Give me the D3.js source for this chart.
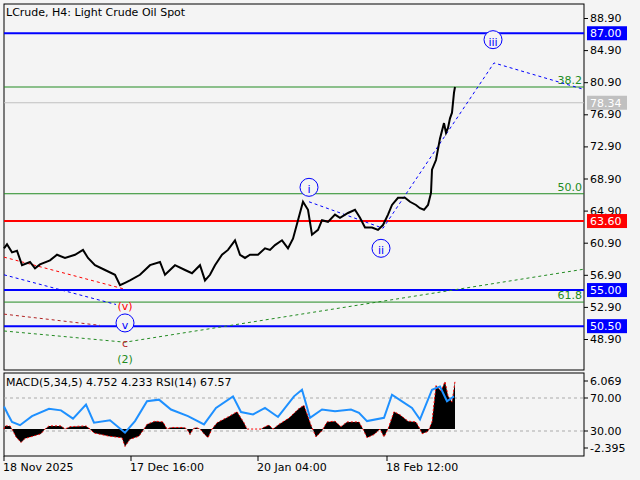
<!DOCTYPE html>
<html><head><meta charset="utf-8">
<script src="https://cdn.jsdelivr.net/npm/d3@7"></script>
<style>body{margin:0;background:#f4f4f4}text{font-family:"DejaVu Sans",sans-serif;font-size:11px}</style>
</head><body><svg id="c" width="640" height="480"></svg>
<script>
// price path: [bar, price]
const priceData = [[0,60.2],[3,60.7],[8,59.7],[13,59.9],[18,58.1],[26,58.5],[31,57.7],[36,58.2],[46,58.7],[53,59.4],[61,59.0],[71,59.4],[79,60.0],[84,59.0],[91,58.1],[101,57.5],[111,56.9],[116,55.6],[121,55.9],[126,56.2],[136,56.9],[146,58.1],[156,58.5],[161,56.9],[171,58.1],[181,57.5],[188,57.1],[196,58.1],[201,56.2],[206,56.9],[211,58.1],[218,59.4],[224,60.0],[231,61.2],[236,59.4],[241,59.0],[246,59.4],[254,59.4],[261,60.2],[266,60.0],[271,60.6],[278,61.2],[284,60.2],[289,61.4],[294,63.7],[299,66.0],[304,65.0],[308,61.9],[314,62.5],[318,63.7],[324,63.5],[331,64.4],[336,64.0],[344,64.6],[351,65.0],[356,64.0],[361,62.8],[368,62.8],[374,62.5],[379,63.1],[384,64.4],[388,65.6],[394,66.5],[401,66.5],[406,66.0],[412,65.6],[416,65.2],[420,65.0],[424,65.6],[427,67.1],[428,70.0],[432,71.2],[436,73.9],[440,75.8],[442,74.6],[444,75.2],[446,76.4],[448,77.1],[450,79.6],[451,80.3]];
const levels = [
  {v:87.00, color:"#0000ff", w:2, tag:"87.00"},
  {v:63.60, color:"#ff0000", w:2, tag:"63.60"},
  {v:55.00, color:"#0000ff", w:2, tag:"55.00"},
  {v:50.50, color:"#0000ff", w:2, tag:"50.50"},
  {v:78.34, color:"#c0c0c0", w:1, tag:"78.34"}
];
const fibLevels = [[80.3,"38.2"],[67.0,"50.0"],[53.5,"61.8"]];
const priceTicks = [88.9,84.9,80.9,76.9,72.9,68.9,64.9,60.9,56.9,52.9,48.9];
const waveBlue = [[0,56.9],[112,53.2]];
const waveBlue2 = [[305,66.0],[379,62.7],[490,83.3],[580,80.0]];
const waveRed = [[0,59.1],[121,55.1]];
const waveDarkRed = [[0,52.0],[96,50.6]];
const waveGreen = [[0,49.9],[121,48.5],[580,57.6]];
const waveLabels = [
  {bar:121,v:53.2,t:"(v)",color:"#ff0000",circle:false},
  {bar:121,v:50.9,t:"v",color:"#0000ff",circle:true},
  {bar:121,v:48.6,t:"c",color:"#b22222",circle:false},
  {bar:121,v:46.6,t:"(2)",color:"#228b22",circle:false},
  {bar:305,v:67.8,t:"i",color:"#0000ff",circle:true},
  {bar:377,v:60.2,t:"ii",color:"#0000ff",circle:true},
  {bar:489,v:86.2,t:"iii",color:"#0000ff",circle:true}
];
const macdHist = [[0,0],[1,0.4],[6,0.4],[8,0],[12,-1.0],[17,-1.7],[21,-1.2],[29,-0.9],[37,-0.6],[41,0],[45,0.4],[57,0.4],[61,0],[66,0.3],[82,0.4],[86,0],[90,-0.5],[105,-0.9],[118,-1.1],[121,-2.2],[126,-1.3],[135,-0.9],[140,0],[143,0.6],[151,1.0],[159,0.9],[163,0],[167,0.2],[180,0.2],[183,0],[186,-0.7],[189,0],[192,0.2],[196,0],[200,-0.6],[204,-1.1],[208,0],[213,0.8],[225,1.6],[233,2.2],[240,0.8],[243,0],[257,0],[261,0.3],[265,0.5],[269,0],[275,0.6],[285,1.4],[295,2.6],[300,3.0],[307,0.5],[312,-1.0],[318,-0.2],[323,0.9],[331,1.0],[337,0.3],[343,0.9],[355,0.9],[359,0],[363,-1.1],[370,-0.7],[376,0],[380,-1.0],[384,0],[390,2.2],[396,1.8],[404,1.0],[412,0.9],[416,0],[418,-0.6],[424,-0.3],[428,0.9],[432,5.5],[437,4.8],[441,6.0],[444,4.2],[448,3.4],[451,6.0]];
const rsiData = [[0,59.7],[4,50],[8,41],[16,37],[28,48],[45,57],[57,55],[69,45],[82,62],[90,40],[106,43],[121,28],[131,42],[143,66],[155,68],[167,56],[184,48],[200,38],[212,58],[229,72],[237,53],[249,50],[261,58],[274,47],[290,72],[298,80],[306,46],[318,56],[331,54],[347,56],[355,52],[363,42],[380,46],[388,74],[398,66],[408,58],[416,44],[428,80],[436,84],[443,66],[450,72]];
const dateTicks = [[0,"18 Nov 2025"],[127,"17 Dec 16:00"],[254,"20 Jan 04:00"],[383,"18 Feb 12:00"]];
const macdTicks = [6.069,-2.395];
const rsiTicks = [70,30];

const svg = d3.select('#c');
const L = 4, R = 584;
const x = d3.scaleLinear().domain([0, 580]).range([L, R]);
const y = d3.scaleLinear().domain([48.9, 88.9]).range([339, 18]);
const ym = d3.scaleLinear().domain([-2.395, 6.069]).range([448, 381]);
const yr = d3.scaleLinear().domain([30, 70]).range([431, 398]);

svg.append('rect').attr('width',640).attr('height',480).attr('fill','#f4f4f4');
svg.append('rect').attr('x',L).attr('y',4).attr('width',R-L).attr('height',366).attr('fill','none').attr('stroke','#000');
svg.append('rect').attr('x',L).attr('y',373).attr('width',R-L).attr('height',83).attr('fill','none').attr('stroke','#000');

// price axis (64.90 label is hidden behind the 63.60 tag, as in the original)
const ax = svg.append('g').attr('transform',`translate(${R},0)`)
  .call(d3.axisRight(y).tickValues(priceTicks).tickFormat(d3.format('.2f')).tickSize(4));
ax.select('.domain').remove();
ax.selectAll('text').attr('font-size',11).attr('fill','#000').attr('x',6);

fibLevels.forEach(([v,t]) => {
  svg.append('line').attr('x1',L).attr('x2',R).attr('y1',y(v)).attr('y2',y(v)).attr('stroke','#228b22');
  svg.append('text').attr('x',R-2).attr('y',y(v)-3).attr('text-anchor','end').attr('fill','#228b22').text(t);
});
levels.forEach(l => {
  svg.append('line').attr('x1',L).attr('x2',R).attr('y1',y(l.v)).attr('y2',y(l.v)).attr('stroke',l.color).attr('stroke-width',l.w);
  svg.append('rect').attr('x',R+3).attr('y',y(l.v)-7).attr('width',40).attr('height',14).attr('fill',l.color);
  svg.append('text').attr('x',R+6).attr('y',y(l.v)+4).attr('fill','#fff').text(l.tag);
});

const wl = d3.line().x(d => x(d[0])).y(d => y(d[1]));
[[waveBlue,'#0000ff'],[waveBlue2,'#0000ff'],[waveRed,'#ff0000'],[waveDarkRed,'#b22222'],[waveGreen,'#228b22']].forEach(([d,c]) => {
  svg.append('path').attr('d',wl(d)).attr('fill','none').attr('stroke',c).attr('stroke-dasharray','3,3');
});

svg.append('path').attr('d',wl(priceData)).attr('fill','none').attr('stroke','#000').attr('stroke-width',2);

waveLabels.forEach(w => {
  const g = svg.append('g').attr('transform',`translate(${x(w.bar)},${y(w.v)})`);
  if (w.circle) g.append('circle').attr('r',9).attr('fill','#f4f4f4').attr('stroke',w.color);
  g.append('text').attr('text-anchor','middle').attr('y',6).attr('font-size',16).attr('fill',w.color).text(w.t);
});

svg.append('text').attr('x',6).attr('y',16).text('LCrude, H4:  Light Crude Oil Spot');

rsiTicks.forEach(v => {
  svg.append('line').attr('x1',L).attr('x2',R).attr('y1',yr(v)).attr('y2',yr(v)).attr('stroke','#aaa').attr('stroke-dasharray','3,3');
});
svg.append('path').attr('d',d3.area().x(d => x(d[0])).y0(ym(0)).y1(d => ym(d[1]))(macdHist)).attr('fill','#000');
svg.append('path').attr('d',d3.line().x(d => x(d[0])).y(d => ym(d[1]))(macdHist)).attr('fill','none').attr('stroke','#ff0000').attr('stroke-dasharray','2,2');
svg.append('path').attr('d',d3.line().x(d => x(d[0])).y(d => yr(d[1]))(rsiData)).attr('fill','none').attr('stroke','#1e90ff').attr('stroke-width',2);
svg.append('text').attr('x',6).attr('y',386).text('MACD(5,34,5) 4.752 4.233 RSI(14) 67.57');
const subTicks = [[ym(macdTicks[0]),'6.069'],[yr(70),'70.00'],[yr(30),'30.00'],[ym(macdTicks[1]),'-2.395']];
subTicks.forEach(([py,t]) => {
  svg.append('line').attr('x1',R).attr('x2',R+4).attr('y1',py).attr('y2',py).attr('stroke','#000');
  svg.append('text').attr('x',R+6).attr('y',py+4).text(t);
});

dateTicks.forEach(([b,t]) => {
  svg.append('line').attr('x1',x(b)).attr('x2',x(b)).attr('y1',456).attr('y2',461).attr('stroke','#000');
  svg.append('text').attr('x',x(b)-1).attr('y',471).text(t);
});
</script></body></html>
